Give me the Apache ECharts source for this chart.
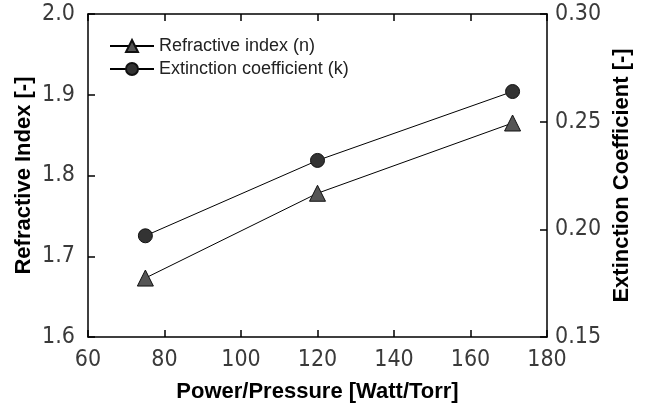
<!DOCTYPE html>
<html><head><meta charset="utf-8">
<script src="https://cdn.jsdelivr.net/npm/echarts@6/dist/echarts.min.js"></script>
<style>html,body{margin:0;padding:0;background:#fff}#c{width:645px;height:409px}</style>
</head><body><div id="c"></div>
<script>
const powerPressure = [75, 120, 171];
const refractiveIndex = [1.673, 1.778, 1.865];
const extinctionCoeff = [0.197, 0.232, 0.264];
const seriesNames = ['Refractive index (n)', 'Extinction coefficient (k)'];

const chart = echarts.init(document.getElementById('c'), null, {renderer: 'canvas'});
const tickFont = {fontFamily: '"Liberation Sans Narrow", "Arial Narrow", "DejaVu Sans Condensed", sans-serif', fontSize: 23, color: '#3a3a3a'};
const titleFont = {fontFamily: 'Liberation Sans, Arial, sans-serif', fontSize: 22, fontWeight: 'bold', color: '#000'};
const axisLine = {show: true, lineStyle: {color: '#000', width: 1.5}};
const axisTick = {show: true, inside: true, length: 7, lineStyle: {color: '#000', width: 1.5}};

chart.setOption({
  animation: false,
  backgroundColor: '#fff',
  grid: {left: 88, right: 98, top: 14, bottom: 72, containLabel: false},
  legend: {
    show: true, left: 104, top: 32, orient: 'vertical', itemGap: 5,
    itemWidth: 44, itemHeight: 15,
    textStyle: {fontFamily: 'Liberation Sans, Arial, sans-serif', fontSize: 18, color: '#222'},
    data: seriesNames
  },
  xAxis: [
    {type: 'value', min: 60, max: 180, interval: 20, position: 'bottom',
     axisLine, axisTick, splitLine: {show: false},
     axisLabel: Object.assign({margin: 12}, tickFont),
     name: 'Power/Pressure [Watt/Torr]', nameLocation: 'middle', nameGap: 44,
     nameMoveOverlap: false,
     nameTextStyle: titleFont},
    {type: 'value', min: 60, max: 180, interval: 20, position: 'top',
     axisLine, axisTick, axisLabel: {show: false}, splitLine: {show: false}}
  ],
  yAxis: [
    {type: 'value', min: 1.6, max: 2.0, interval: 0.1, position: 'left',
     axisLine, axisTick, splitLine: {show: false},
     axisLabel: Object.assign({margin: 13, formatter: v => v.toFixed(1)}, tickFont),
     name: 'Refractive Index [-]', nameLocation: 'middle', nameGap: 53, nameRotate: 90,
     nameMoveOverlap: false,
     nameTextStyle: titleFont},
    {type: 'value', min: 0.15, max: 0.30, interval: 0.05, position: 'right',
     axisLine, axisTick, splitLine: {show: false},
     axisLabel: Object.assign({margin: 8, formatter: v => v.toFixed(2)}, tickFont),
     name: 'Extinction Coefficient [-]', nameLocation: 'middle', nameGap: 64, nameRotate: 90,
     nameMoveOverlap: false,
     nameTextStyle: titleFont}
  ],
  series: [
    {name: seriesNames[0], type: 'line', xAxisIndex: 0, yAxisIndex: 0,
     data: powerPressure.map((x, i) => [x, refractiveIndex[i]]),
     symbol: 'triangle', symbolSize: 16,
     lineStyle: {color: '#000', width: 1},
     itemStyle: {color: '#555', borderColor: '#111', borderWidth: 1}},
    {name: seriesNames[1], type: 'line', xAxisIndex: 0, yAxisIndex: 1,
     data: powerPressure.map((x, i) => [x, extinctionCoeff[i]]),
     symbol: 'circle', symbolSize: 14,
     lineStyle: {color: '#000', width: 1},
     itemStyle: {color: '#333', borderColor: '#111', borderWidth: 1}}
  ]
});
</script></body></html>
